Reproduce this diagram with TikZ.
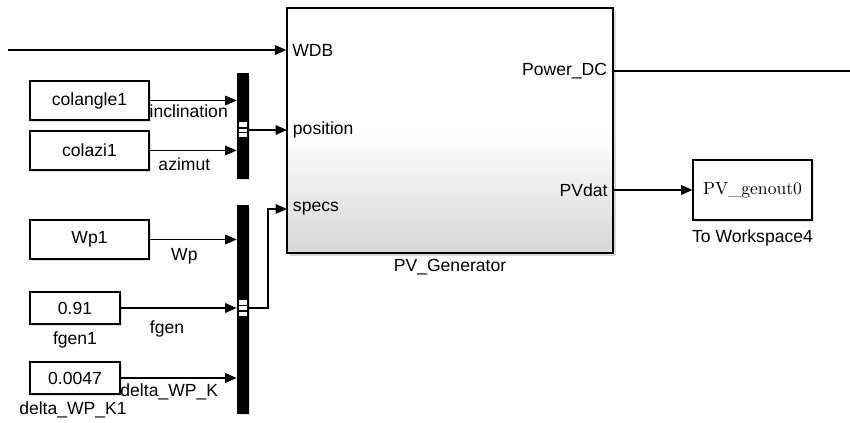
\documentclass[tikz,border=0pt]{standalone}
\usepackage{fontspec}
\setsansfont{Liberation Sans}
\usetikzlibrary{positioning, arrows.meta, shadows}
\tikzset{
  srcblock/.style = {draw, line width=0.6pt, fill=white, minimum width=2.38cm, minimum height=0.78cm, inner sep=0pt, font=\sffamily\fontsize{10}{12}\selectfont, drop shadow={opacity=0.25, shadow xshift=1.2pt, shadow yshift=-1.2pt}},
  constblock/.style = {srcblock, minimum width=1.8cm, minimum height=0.64cm},
  muxbar/.style   = {fill=black, draw=black, minimum width=0.22cm, inner sep=0pt, drop shadow={opacity=0.25, shadow xshift=1.2pt, shadow yshift=-1.2pt}},
  subsys/.style   = {draw, line width=0.7pt, top color=white, bottom color=gray!32, middle color=white, minimum width=6.52cm, minimum height=4.9cm, inner sep=0pt, drop shadow={opacity=0.3, shadow xshift=1.5pt, shadow yshift=-1.5pt}},
  sinkblock/.style = {srcblock, minimum width=2.38cm, minimum height=1.2cm, font=\rmfamily\fontsize{10}{12}\selectfont},
  lbl/.style      = {font=\sffamily\fontsize{10}{12}\selectfont, inner sep=1pt},
  portlbl/.style  = {lbl, inner xsep=3.2pt},
  muxmark/.style  = {fill=white},
  sig/.style      = {line width=0.6pt, -{Triangle[length=6.5pt, width=5.5pt]}},
  wire/.style     = {line width=0.6pt}
}
\begin{document}
\begin{tikzpicture}[x=0.02cm, y=-0.02cm]
  \useasboundingbox (0,0) rectangle (850,423);

  \node[srcblock]   (colangle) at (89.5,100.5) {colangle1};
  \node[srcblock]   (colazi)   at (89.5,150.5) {colazi1};
  \node[srcblock]   (wp)       at (89.5,239.5) {Wp1};
  \node[constblock] (fgen)     at (75,308)     {0.91};
  \node[constblock] (delta)    at (75,378)     {0.0047};
  \node[muxbar, minimum height=2.1cm]  (mux1) at (242.5,125.5) {};
  \node[muxbar, minimum height=4.16cm] (mux2) at (242.5,309) {};
  \node[subsys]    (pvgen) at (450,130.5) {};
  \node[sinkblock] (towks) at (752.5,190) {PV\_genout0};

  \node[lbl, below=2pt of pvgen] (pvgenname) {PV\_Generator};
  \node[lbl, below=4pt of towks] (towksname) {To Workspace4};
  \node[lbl, below=3pt of fgen]  (fgenname)  {fgen1};
  \node[lbl] (deltaname) at (73,410) {delta\_WP\_K1};

  \coordinate (wdbin) at (8,50);
  \coordinate (posport) at (287,130);
  \coordinate (specport) at (287,209);
  \coordinate (pdcout) at (850,71);
  \coordinate (pdcport) at (613,71);

  \node[portlbl, anchor=west] (wdblbl)  at (pvgen.west |- wdbin)    {WDB};
  \node[portlbl, anchor=west] (poslbl)  at (posport)                {position};
  \node[portlbl, anchor=west] (speclbl) at (specport)               {specs};
  \node[portlbl, anchor=east] (pdclbl)  at (pdcport)                {Power\_DC};
  \node[portlbl, anchor=east] (pvdlbl)  at (pvgen.east |- towks)    {PVdat};

  \fill[muxmark] (239,122) rectangle (247,137);
  \draw[line width=0.8pt] (239,128) -- (247,128) (239,132.5) -- (247,132.5);
  \fill[muxmark] (239,300) rectangle (247,316);
  \draw[line width=0.8pt] (239,305.5) -- (247,305.5) (239,311) -- (247,311);

  \draw[sig] (wdbin) -- (pvgen.west |- wdbin);
  \draw[sig] (colangle.east) -- (mux1.west |- colangle.east) node[lbl, pos=0.45, below=1pt] {inclination};
  \draw[sig] (colazi.east) -- (mux1.west |- colazi.east) node[lbl, pos=0.4, below=3pt] {azimut};
  \draw[sig] (mux1.east |- posport) -- (posport);
  \draw[sig] (wp.east) -- (mux2.west |- wp.east) node[lbl, pos=0.4, below=4pt] {Wp};
  \draw[sig] (fgen.east) -- (mux2.west |- fgen.east) node[lbl, pos=0.4, below=6pt] {fgen};
  \draw[sig] (delta.east) -- (mux2.west |- delta.east) node[lbl, pos=0.42, below=2pt] {delta\_WP\_K};
  \draw[sig] (mux2.east |- fgen.east) -| ([xshift=-0.38cm]specport) -- (specport);
  \draw[wire] (pdcport) -- (pdcout);
  \draw[sig] (pvgen.east |- towks) -- (towks.west);
\end{tikzpicture}
\end{document}
